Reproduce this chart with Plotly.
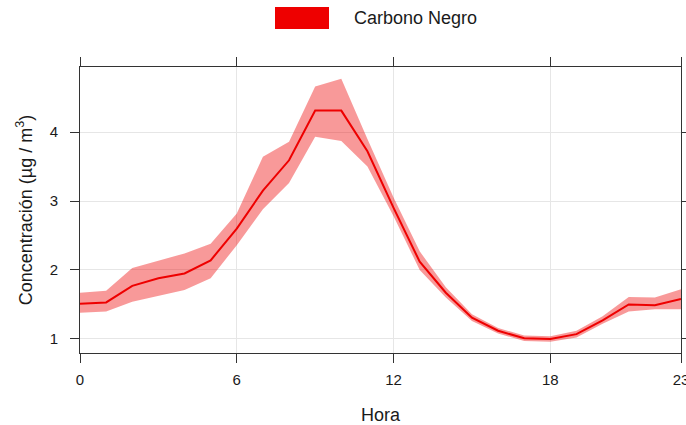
import plotly.graph_objects as go

hours = list(range(24))
mean_bc = [1.51, 1.53, 1.77, 1.88, 1.95, 2.14, 2.60, 3.15, 3.59, 4.31, 4.31, 3.72,
           2.90, 2.12, 1.67, 1.31, 1.12, 1.01, 1.00, 1.07, 1.27, 1.50, 1.49, 1.58]
lower_bc = [1.38, 1.40, 1.54, 1.63, 1.71, 1.88, 2.36, 2.88, 3.26, 3.93, 3.87, 3.50,
            2.78, 2.00, 1.60, 1.26, 1.08, 0.97, 0.96, 1.02, 1.22, 1.40, 1.43, 1.43]
upper_bc = [1.67, 1.70, 2.03, 2.14, 2.24, 2.38, 2.82, 3.64, 3.86, 4.66, 4.77, 3.90,
            3.05, 2.27, 1.75, 1.36, 1.16, 1.05, 1.04, 1.12, 1.33, 1.61, 1.60, 1.72]
x_ticks = [0, 6, 12, 18, 23]
y_ticks = [1, 2, 3, 4]
series_name = "Carbono Negro"

LINE = "#EE0000"
FILL = "rgba(238,0,0,0.40)"
AX = "#333333"
TXT = "#1a1a1a"
FONT = "Liberation Sans, Arial, sans-serif"

fig = go.Figure()
fig.add_trace(go.Scatter(
    x=hours + hours[::-1], y=upper_bc + lower_bc[::-1],
    fill="toself", fillcolor=FILL, line=dict(width=0), mode="lines",
    hoverinfo="skip", showlegend=False))
fig.add_trace(go.Scatter(
    x=hours, y=mean_bc, mode="lines", line=dict(color=LINE, width=2),
    name=series_name, showlegend=False))

# legend drawn as key + label
fig.add_shape(type="rect", xref="paper", yref="paper",
              x0=(275 - 80) / 601, x1=(329 - 80) / 601,
              y0=(353 - 29) / 286, y1=(353 - 7) / 286,
              fillcolor=LINE, line=dict(width=0))
fig.add_annotation(text=series_name, xref="paper", yref="paper",
                   x=(352 - 80) / 601, y=(353 - 18) / 286,
                   xanchor="left", yanchor="middle", showarrow=False,
                   font=dict(size=18, color=TXT, family=FONT))

fig.update_xaxes(range=[0, 23], tickvals=x_ticks, ticktext=[str(v) for v in x_ticks],
                 automargin=False, ticklabeloverflow="allow",
                 showgrid=True, gridcolor="#E6E6E6", gridwidth=1,
                 showline=True, linecolor=AX, linewidth=1, mirror="allticks",
                 ticks="outside", ticklen=9, tickcolor=AX, zeroline=False,
                 tickfont=dict(size=15, color=TXT, family=FONT), ticklabelstandoff=4,
                 title=dict(text="Hora", font=dict(size=18, color=TXT, family=FONT), standoff=22))
fig.update_yaxes(range=[0.797, 4.942], tickvals=y_ticks, ticktext=[str(v) for v in y_ticks],
                 automargin=False,
                 showgrid=True, gridcolor="#E6E6E6", gridwidth=1,
                 showline=True, linecolor=AX, linewidth=1, mirror="allticks",
                 ticks="outside", ticklen=9, tickcolor=AX, zeroline=False,
                 tickfont=dict(size=15, color=TXT, family=FONT), ticklabelstandoff=9,
                 title=dict(text="Concentración (µg / m<sup>3</sup>)",
                            font=dict(size=18, color=TXT, family=FONT), standoff=12))

fig.update_layout(width=686, height=425, margin=dict(l=80, r=5, t=67, b=72),
                  plot_bgcolor="white", paper_bgcolor="white",
                  font=dict(family=FONT, color=TXT), showlegend=False)

fig.write_html("out.html")
